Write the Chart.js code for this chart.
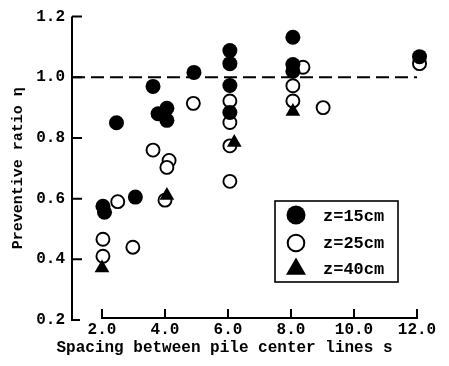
<!DOCTYPE html>
<html>
<head>
<meta charset="utf-8">
<script src="https://cdn.jsdelivr.net/npm/chart.js@4/dist/chart.umd.min.js"></script>
<style>
  html, body { margin: 0; padding: 0; background: #fff; }
  #wrap { width: 449px; height: 366px; }
</style>
</head>
<body>
<div id="wrap"><canvas id="pileChart" width="449" height="366"></canvas></div>
<script>
// z = 15 cm (filled circles)
const spacing15 = [2.03, 2.08, 2.46, 3.06, 3.62, 3.78, 4.06, 4.06, 4.92, 6.06, 6.06, 6.06, 6.06, 8.06, 8.06, 8.06, 12.08];
const ratio15   = [0.575, 0.555, 0.85, 0.605, 0.97, 0.88, 0.898, 0.858, 1.016, 1.088, 1.045, 0.973, 0.884, 1.132, 1.042, 1.02, 1.068];

// z = 25 cm (open circles)
const spacing25 = [2.03, 2.03, 2.5, 2.98, 3.62, 4.13, 4.06, 4.0, 4.9, 6.06, 6.06, 6.06, 6.06, 8.06, 8.06, 8.38, 9.02, 12.08];
const ratio25   = [0.466, 0.41, 0.59, 0.44, 0.76, 0.726, 0.703, 0.595, 0.914, 0.922, 0.851, 0.774, 0.657, 0.972, 0.922, 1.033, 0.90, 1.045];

// z = 40 cm (triangles)
const spacing40 = [2.0, 4.06, 6.2, 8.06];
const ratio40   = [0.371, 0.61, 0.785, 0.887];

const xTicks = [2, 4, 6, 8, 10, 12];
const yTicks = [0.2, 0.4, 0.6, 0.8, 1.0, 1.2];
const refRatio = 1.0;
const seriesLabels = ['z=15cm', 'z=25cm', 'z=40cm'];

const xMin = 1.048, xMax = 13.016;
const monoFont = "'Liberation Mono', 'DejaVu Sans Mono', monospace";

const toPoints = (xs, ys) => xs.map((v, i) => ({ x: v, y: ys[i] }));

// axes drawn the old way: ticks pointing inward, x axis detached from the y axis
const inwardAxes = {
    id: 'inwardAxes',
    beforeDatasetsDraw(chart) {
        const { ctx, chartArea, scales: { x, y } } = chart;
        ctx.save();
        ctx.strokeStyle = '#000';
        ctx.lineWidth = 2;
        ctx.beginPath();
        ctx.moveTo(chartArea.left, y.getPixelForValue(yTicks[yTicks.length - 1]));
        ctx.lineTo(chartArea.left, y.getPixelForValue(yTicks[0]) + 1);
        yTicks.forEach(v => {
            const py = y.getPixelForValue(v);
            ctx.moveTo(chartArea.left, py);
            ctx.lineTo(chartArea.left + (v === yTicks[0] ? 8 : 10), py);
        });
        const axisY = chartArea.bottom - 2;
        ctx.moveTo(x.getPixelForValue(xTicks[0]) - 1, axisY);
        ctx.lineTo(x.getPixelForValue(xTicks[xTicks.length - 1]) + 1, axisY);
        xTicks.forEach(v => {
            const px = x.getPixelForValue(v);
            ctx.moveTo(px, axisY);
            ctx.lineTo(px, axisY - 9);
        });
        ctx.stroke();
        ctx.restore();
    }
};

// boxed legend sitting inside the plot
const boxLegend = {
    id: 'boxLegend',
    afterDraw(chart) {
        const { ctx } = chart;
        const left = 275, top = 201, right = 398, bottom = 282;
        const rows = [216, 243, 269];
        const mx = 296;
        ctx.save();
        ctx.strokeStyle = '#000';
        ctx.lineWidth = 1.6;
        ctx.strokeRect(left, top, right - left, bottom - top);

        ctx.fillStyle = '#000';
        ctx.beginPath();
        ctx.arc(mx, rows[0] - 1, 9.5, 0, Math.PI * 2);
        ctx.fill();

        ctx.fillStyle = '#fff';
        ctx.lineWidth = 2;
        ctx.beginPath();
        ctx.arc(mx, rows[1], 8.3, 0, Math.PI * 2);
        ctx.fill();
        ctx.stroke();

        const r = 11.5;
        ctx.fillStyle = '#000';
        ctx.beginPath();
        ctx.moveTo(mx, rows[2] - r);
        ctx.lineTo(mx + r * Math.cos(Math.PI / 6), rows[2] + r / 2);
        ctx.lineTo(mx - r * Math.cos(Math.PI / 6), rows[2] + r / 2);
        ctx.closePath();
        ctx.fill();

        ctx.font = 'bold 17px ' + monoFont;
        ctx.textAlign = 'left';
        ctx.textBaseline = 'middle';
        seriesLabels.forEach((t, i) => ctx.fillText(t, 323, rows[i] + 1));
        ctx.restore();
    }
};

const ctx = document.getElementById('pileChart').getContext('2d');
new Chart(ctx, {
    type: 'scatter',
    data: {
        datasets: [
            {
                label: seriesLabels[2],
                data: toPoints(spacing40, ratio40),
                pointStyle: 'triangle',
                pointRadius: 8.5,
                backgroundColor: '#000',
                borderColor: '#000',
                borderWidth: 0,
                clip: false,
                order: 0
            },
            {
                label: seriesLabels[0],
                data: toPoints(spacing15, ratio15),
                pointStyle: 'circle',
                pointRadius: 7.5,
                backgroundColor: '#000',
                borderColor: '#000',
                borderWidth: 0,
                clip: false,
                order: 1
            },
            {
                label: seriesLabels[1],
                data: toPoints(spacing25, ratio25),
                pointStyle: 'circle',
                pointRadius: 6.5,
                backgroundColor: '#fff',
                borderColor: '#000',
                borderWidth: 1.9,
                clip: false,
                order: 2
            },
            {
                label: 'reference',
                type: 'line',
                data: toPoints([xMin, xTicks[xTicks.length - 1]], [refRatio, refRatio]),
                borderColor: '#000',
                borderWidth: 2,
                borderDash: [13, 6],
                pointRadius: 0,
                fill: false,
                clip: false,
                order: 3
            }
        ]
    },
    options: {
        responsive: false,
        animation: false,
        events: [],
        layout: { autoPadding: false, padding: { top: 16, right: 0, left: 0, bottom: 0 } },
        plugins: {
            legend: { display: false },
            tooltip: { enabled: false },
            title: {
                display: true,
                position: 'bottom',
                text: 'Spacing between pile center lines s',
                color: '#000',
                font: { family: monoFont, size: 16, weight: 'bold' },
                padding: { top: 0, bottom: 8 }
            }
        },
        scales: {
            x: {
                type: 'linear',
                min: xMin,
                max: xMax,
                afterBuildTicks: scale => { scale.ticks = xTicks.map(v => ({ value: v })); },
                afterFit: scale => { scale.height = 18.8; },
                grid: { display: false, drawTicks: false },
                border: { display: false },
                ticks: {
                    padding: 0,
                    color: '#000',
                    font: { family: monoFont, size: 16, weight: 'bold' },
                    maxRotation: 0,
                    callback: v => Number(v).toFixed(1)
                }
            },
            y: {
                min: yTicks[0],
                max: yTicks[yTicks.length - 1],
                afterBuildTicks: scale => { scale.ticks = yTicks.map(v => ({ value: v })); },
                afterFit: scale => { scale.width = 72; },
                grid: { display: false, drawTicks: false },
                border: { display: false },
                ticks: {
                    padding: 7,
                    color: '#000',
                    font: { family: monoFont, size: 16, weight: 'bold' },
                    callback: v => Number(v).toFixed(1)
                },
                title: {
                    display: true,
                    text: 'Preventive ratio η',
                    color: '#000',
                    font: { family: monoFont, size: 15, weight: 'bold' },
                    padding: { top: 9, bottom: 0 }
                }
            }
        }
    },
    plugins: [inwardAxes, boxLegend]
});
</script>
</body>
</html>
